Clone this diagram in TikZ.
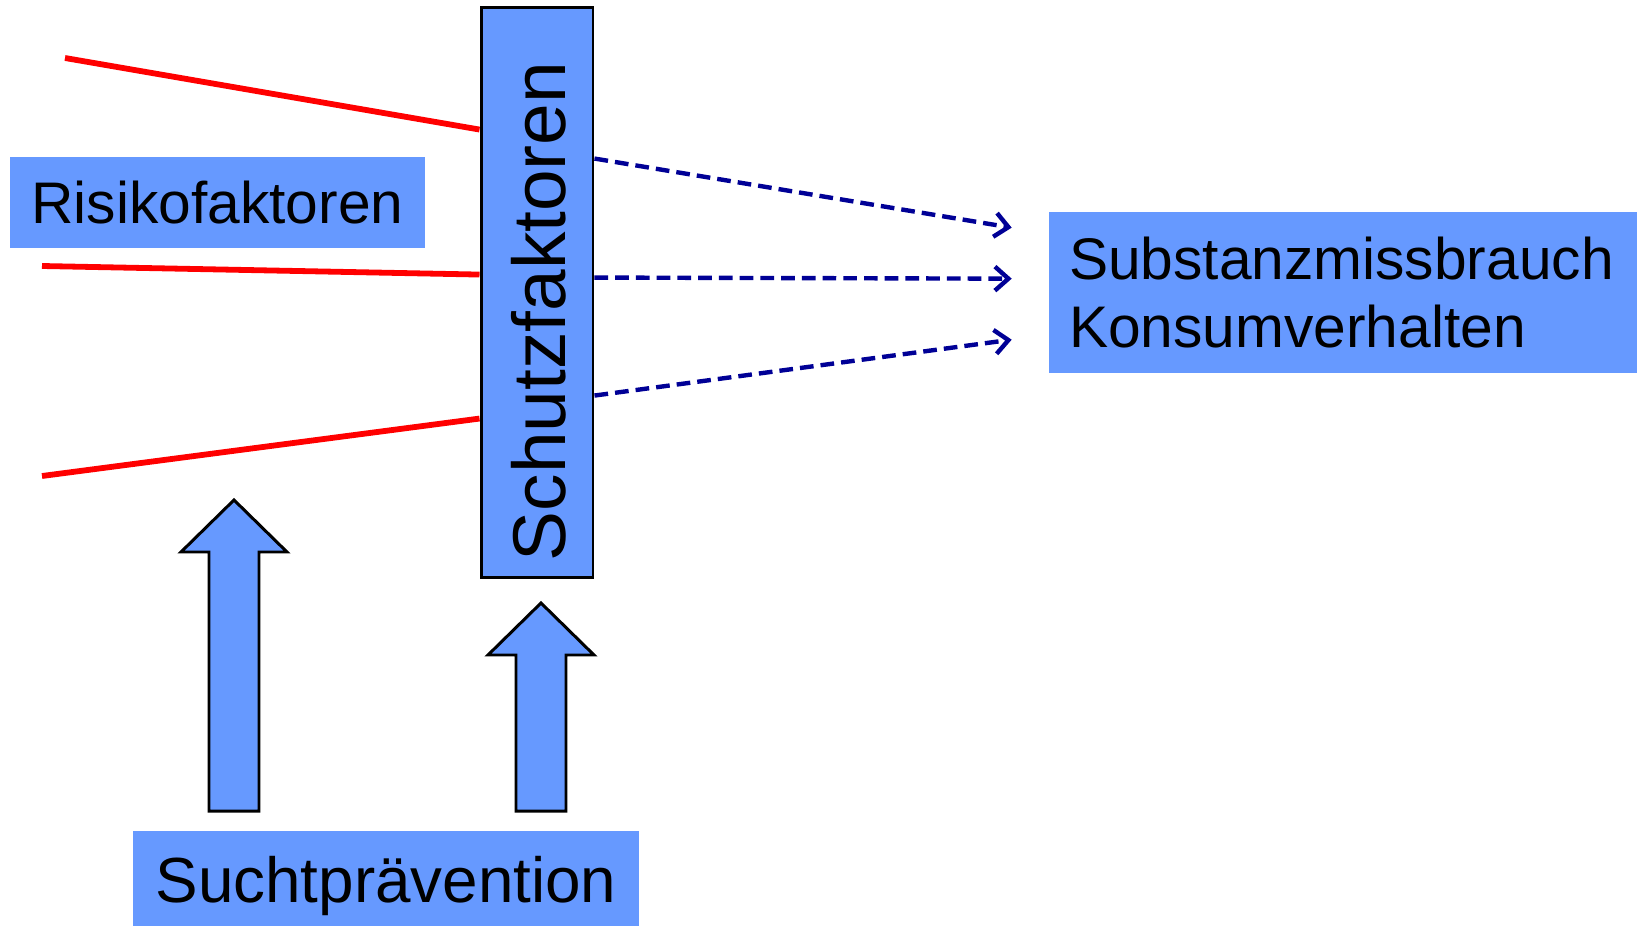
\documentclass[tikz,border=0pt]{standalone}
\usepackage{fontspec}
\setmainfont{Liberation Sans}
\usetikzlibrary{arrows.meta,calc,positioning}
\definecolor{kastenblau}{RGB}{102,153,255}
\definecolor{pfeilblau}{RGB}{0,0,150}

\tikzset{
  kasten/.style={fill=kastenblau,inner sep=0pt,font=\fontsize{33.4}{38.5}\selectfont},
  risiko/.style={red,line width=3.3pt},
  wirkung/.style={-{Straight Barb[length=2.7mm,width=4.8mm]},pfeilblau,line width=2.5pt,
    dash pattern=on 7.8pt off 4pt},
  block/.style={fill=kastenblau,draw=black,line width=1.7pt,line join=miter}
}

\begin{document}
\begin{tikzpicture}[x=0.02cm,y=-0.02cm]
  \useasboundingbox (0,0) rectangle (1640,926);
  % Kaesten
  \node[kasten,minimum width=8.3cm,minimum height=1.82cm] (risk) at (217.5,202.5) {Risikofaktoren};
  \node[kasten,minimum width=11.76cm,minimum height=3.22cm,text width=10.96cm,align=left]
      (subst) at (1343,292.5) {Substanzmissbrauch\\Konsumverhalten};
  \node[kasten,minimum width=10.12cm,minimum height=2.2cm,font=\fontsize{36.3}{42}\selectfont]
      (sucht) at (386,886) {Suchtprävention};
  \node[kasten,draw=black,line width=1.7pt,minimum width=2.24cm,minimum height=11.42cm]
      (schutz) at (537,292.5) {};
  \node[rotate=90,inner sep=0pt,font=\fontsize{42.6}{48}\selectfont] (schutztext)
      at (538.5,311.5) {Schutzfaktoren};
  % rote Linien
  \coordinate (r1) at (65,58);
  \coordinate (r2) at (42,266);
  \coordinate (r3) at (42,476);
  \foreach \s/\d in {r1/124,r2/269,r3/413}
    \draw[risiko] (\s) -- ($(schutz.north west)+(0,\d)$);
  % gestrichelte Pfeile
  \foreach \a/\e in {153/16,272/67,390/128}
    \draw[wirkung] ($(schutz.north east)+(0,\a)$) -- ($(subst.north west)+(-37,\e)$);
  % Blockpfeile
  \foreach \x/\t in {234/500,541/603}
    \draw[block] (\x-25,811) -- (\x-25,\t+52) -- (\x-53,\t+52) -- (\x,\t) -- (\x+53,\t+52)
      -- (\x+25,\t+52) -- (\x+25,811) -- cycle;
\end{tikzpicture}
\end{document}
